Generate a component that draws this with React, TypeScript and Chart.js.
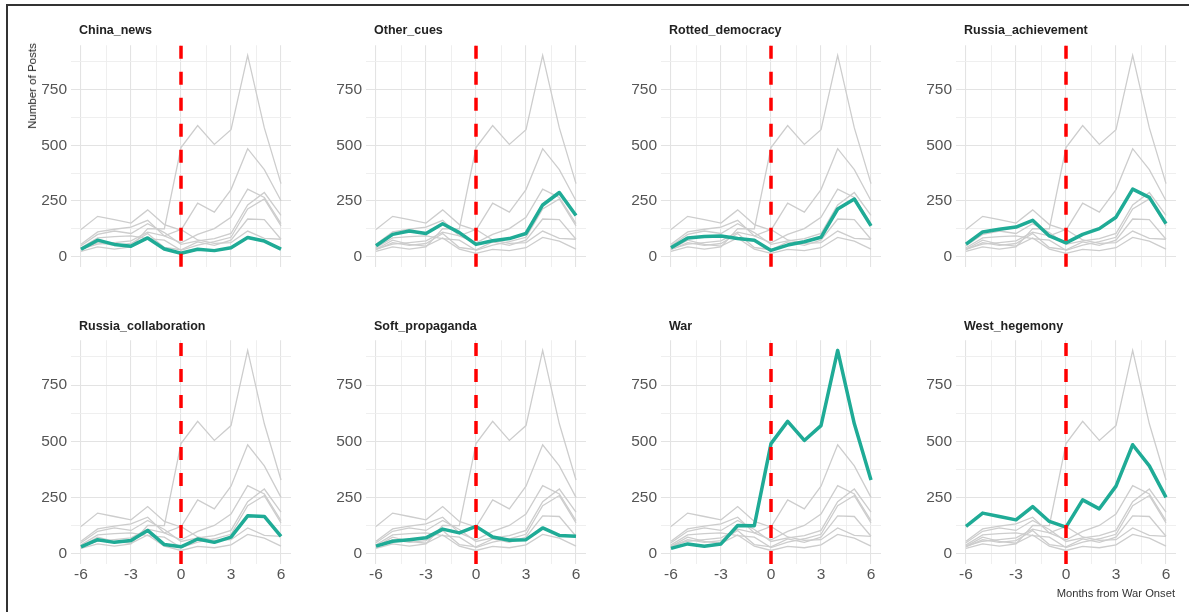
import React, { useEffect, useRef } from "react";
import { Chart, registerables } from "chart.js";

Chart.register(...registerables);

// ---------- data ----------
const months = [-6, -5, -4, -3, -2, -1, 0, 1, 2, 3, 4, 5, 6];
const chinaNews = [33, 74, 55, 47, 84, 34, 15, 33, 27, 40, 86, 70, 34];
const otherCues = [49, 100, 115, 104, 148, 108, 55, 71, 81, 104, 232, 288, 185];
const rottedDemocracy = [40, 84, 90, 93, 81, 74, 28, 52, 67, 87, 214, 259, 138];
const russiaAchievement = [56, 111, 123, 133, 163, 93, 62, 100, 126, 177, 303, 266, 148];
const russiaCollaboration = [31, 63, 51, 59, 104, 41, 31, 66, 51, 74, 169, 166, 78];
const softPropaganda = [34, 56, 63, 71, 110, 93, 122, 75, 60, 63, 115, 82, 78];
const war = [24, 44, 34, 44, 126, 125, 490, 589, 504, 570, 904, 578, 328];
const westHegemony = [122, 181, 166, 151, 210, 144, 119, 240, 200, 301, 485, 391, 251];

const categories = [
  "China_news",
  "Other_cues",
  "Rotted_democracy",
  "Russia_achievement",
  "Russia_collaboration",
  "Soft_propaganda",
  "War",
  "West_hegemony",
];
const seriesList = [
  chinaNews,
  otherCues,
  rottedDemocracy,
  russiaAchievement,
  russiaCollaboration,
  softPropaganda,
  war,
  westHegemony,
];

const xGridTicks = [-6, -4.5, -3, -1.5, 0, 1.5, 3, 4.5, 6];
const yGridTicks = [0, 125, 250, 375, 500, 625, 750, 875];
const xLabelStep = 3;
const yLabelStep = 250;
const onsetMonth = 0;
const xTitle = "Months from War Onset";
const yTitle = "Number of Posts";

// ---------- styling / layout ----------
const TEAL = "#1fab96";
const GRAY = "#cdcdcd";
const FONT = "'Liberation Sans', Arial, sans-serif";

const PLOT_W = 220;
const COL_LEFT = [71, 366, 661, 956];
const ROW_TOP = [44, 339];
const ROW_H = [224, 225];
const Y_AXIS_W = 50;
const PAD = 12;
const X_AXIS_H = 30;

const xMin = -6.6;
const xMax = 6.6;
const yMax0 = Math.max(...seriesList.map((s) => Math.max(...s)));
const yMin = -0.05 * yMax0;
const yMax = yMax0 * 1.05;

const onsetLine = {
  id: "onsetLine",
  afterDatasetsDraw(chart: any) {
    const { ctx, chartArea, scales } = chart;
    const x = scales.x.getPixelForValue(onsetMonth);
    ctx.save();
    ctx.strokeStyle = "#ff0000";
    ctx.lineWidth = 3.5;
    ctx.setLineDash([13, 13]);
    ctx.beginPath();
    ctx.moveTo(x, chartArea.bottom);
    ctx.lineTo(x, chartArea.top);
    ctx.stroke();
    ctx.restore();
  },
};

function Panel({ index }: { index: number }) {
  const ref = useRef<HTMLCanvasElement | null>(null);
  const col = index % 4;
  const row = Math.floor(index / 4);
  const showX = row === 1;
  const xH = showX ? X_AXIS_H : 0;
  const left = COL_LEFT[col] - Y_AXIS_W;
  const top = ROW_TOP[row] - PAD;
  const width = Y_AXIS_W + PLOT_W + PAD;
  const height = PAD + ROW_H[row] + xH + PAD;

  useEffect(() => {
    if (!ref.current) return;
    const datasets: any[] = [
      {
        label: categories[index],
        data: months.map((m, i) => ({ x: m, y: seriesList[index][i] })),
        borderColor: TEAL,
        borderWidth: 3.5,
        pointRadius: 0,
        tension: 0,
        order: 0,
        borderJoinStyle: "round",
      },
      ...seriesList.map((s, k) => ({
        label: categories[k] + " (all)",
        data: months.map((m, i) => ({ x: m, y: s[i] })),
        borderColor: GRAY,
        borderWidth: 1.3,
        pointRadius: 0,
        tension: 0,
        order: 1,
      })),
    ];
    const chart = new Chart(ref.current, {
      type: "line",
      data: { datasets },
      plugins: [onsetLine],
      options: {
        animation: false,
        responsive: false,
        layout: { padding: { top: PAD, right: PAD, bottom: PAD, left: 0 } },
        plugins: { legend: { display: false }, tooltip: { enabled: false }, title: { display: false } },
        scales: {
          x: {
            type: "linear",
            min: xMin,
            max: xMax,
            afterBuildTicks: (scale: any) => {
              scale.ticks = xGridTicks.map((v) => ({ value: v }));
            },
            afterFit: (scale: any) => {
              scale.height = xH;
            },
            border: { display: false },
            grid: {
              drawTicks: false,
              color: (ctx: any) => (ctx.tick && ctx.tick.value % xLabelStep === 0 ? "#e3e3e3" : "#ededed"),
              lineWidth: (ctx: any) => (ctx.tick && ctx.tick.value % xLabelStep === 0 ? 1.1 : 0.9),
            },
            ticks: {
              display: showX,
              autoSkip: false,
              maxRotation: 0,
              padding: 1,
              color: "#555",
              font: { family: FONT, size: 15.5 },
              callback: (v: any) => (Number(v) % xLabelStep === 0 ? String(v) : ""),
            },
          },
          y: {
            type: "linear",
            min: yMin,
            max: yMax,
            afterBuildTicks: (scale: any) => {
              scale.ticks = yGridTicks.map((v) => ({ value: v }));
            },
            afterFit: (scale: any) => {
              scale.width = Y_AXIS_W;
            },
            border: { display: false },
            grid: {
              drawTicks: false,
              color: (ctx: any) => (ctx.tick && ctx.tick.value % yLabelStep === 0 ? "#e3e3e3" : "#ededed"),
              lineWidth: (ctx: any) => (ctx.tick && ctx.tick.value % yLabelStep === 0 ? 1.1 : 0.9),
            },
            ticks: {
              autoSkip: false,
              padding: 4,
              color: "#555",
              font: { family: FONT, size: 15.5 },
              callback: (v: any) => (Number(v) % yLabelStep === 0 ? String(v) : ""),
            },
          },
        },
      } as any,
    });
    return () => chart.destroy();
  }, [index]);

  return (
    <canvas
      ref={ref}
      width={width}
      height={height}
      style={{ position: "absolute", left, top, width, height }}
    />
  );
}

export default function App() {
  return (
    <div
      style={{
        position: "fixed",
        left: 0,
        top: 0,
        width: 1189,
        height: 612,
        background: "#fff",
        overflow: "hidden",
        fontFamily: FONT,
      }}
    >
      <div
        style={{
          position: "absolute",
          left: 6,
          top: 4,
          width: 1200,
          height: 620,
          borderTop: "2px solid #333",
          borderLeft: "2px solid #333",
          boxSizing: "border-box",
        }}
      />
      {categories.map((c, i) => (
        <Panel key={c} index={i} />
      ))}
      {categories.map((c, i) => {
        const col = i % 4;
        const row = Math.floor(i / 4);
        return (
          <div
            key={"t" + c}
            style={{
              position: "absolute",
              left: COL_LEFT[col] + 8,
              top: row === 0 ? 23 : 319,
              lineHeight: "14px",
              fontSize: 12.5,
              fontWeight: "bold",
              color: "#222",
              whiteSpace: "nowrap",
            }}
          >
            {c}
          </div>
        );
      })}
      <div
        style={{
          position: "absolute",
          left: 32,
          top: 86,
          transform: "translate(-50%, -50%) rotate(-90deg)",
          fontSize: 11.5,
          color: "#222",
          whiteSpace: "nowrap",
          lineHeight: "14px",
        }}
      >
        {yTitle}
      </div>
      <div
        style={{
          position: "absolute",
          right: 14,
          top: 586,
          fontSize: 11.2,
          color: "#333",
          whiteSpace: "nowrap",
          lineHeight: "14px",
        }}
      >
        {xTitle}
      </div>
    </div>
  );
}
